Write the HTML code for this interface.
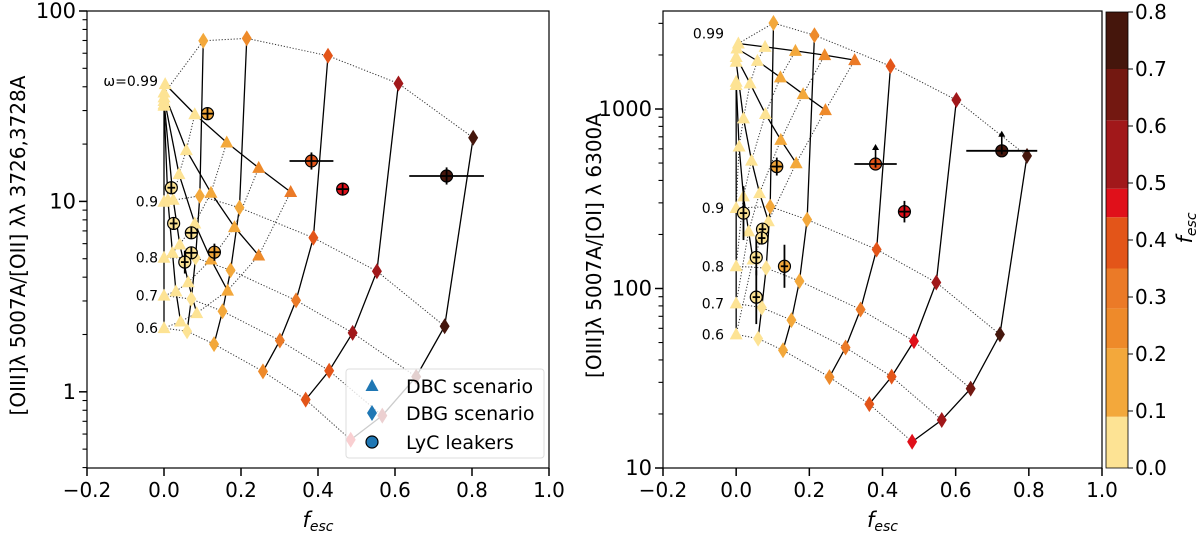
<!DOCTYPE html>
<html><head><meta charset="utf-8"><style>
html,body{margin:0;padding:0;background:#fff;}
svg{display:block;font-family:"DejaVu Sans","Liberation Sans",sans-serif;}
</style></head><body>
<svg id="fig" width="1200" height="535" viewBox="0 0 1200 535" xmlns="http://www.w3.org/2000/svg"></svg>
<script>
// ---------- data ----------
const omegas = [0.99, 0.9, 0.8, 0.7, 0.6];
const omegaLabelsL = ["\u03c9=0.99","0.9","0.8","0.7","0.6"];
const omegaLabelsR = ["0.99","0.9","0.8","0.7","0.6"];
const dbgFescL = [[0.005,0.102,0.215,0.426,0.609,0.803],[0,0.093,0.196,0.388,0.553,0.729],[0,0.082,0.173,0.343,0.490,0.655],[0,0.071,0.152,0.301,0.429,0.567],[0,0.060,0.130,0.257,0.368,0.485]];
const dbgRatioL = [[38,69.8,71.8,58.2,41.6,21.6],[9.96,10.7,9.27,6.44,4.30,2.21],[5.06,5.06,4.35,3.02,2.04,1.20],[3.2,3.07,2.65,1.86,1.29,0.75],[2.16,2.08,1.78,1.28,0.91,0.56]];
const dbgFescR = [[0.006,0.102,0.214,0.422,0.602,0.795],[0,0.093,0.194,0.384,0.547,0.721],[0,0.082,0.173,0.340,0.486,0.641],[0,0.070,0.151,0.299,0.425,0.562],[0,0.060,0.128,0.255,0.364,0.481]];
const dbgRatioR = [[2317,3013,2577,1733,1122,548],[281,286,242,165,108,55.5],[133,130,110,76.4,50.9,27.7],[82.6,78.2,66.7,46.9,32.3,18.5],[55.5,52.6,45.3,32.1,22.7,14.0]];
const dbcFescL = [[0.003,0.080,0.163,0.246,0.329],[0,0.058,0.122,0.183,0.246],[0,0.039,0.080,0.122,0.165],[0,0.024,0.041,0.063,0.085],[0,0.010,0.022,0.031,0.043],[0,0,0,0,0]];
const dbcRatioL = [[41.3,28.7,20.4,15.0,11.2],[37.3,18.6,11.1,7.33,5.2],[35.2,13.9,7.66,4.95,3.40],[33.7,10.2,5.94,3.76,2.59],[32.4,10.2,5.37,3.37,2.34],[31.8,9.96,5.06,3.2,2.16]];
const dbcFescR = [[0.006,0.079,0.162,0.242,0.324],[0.002,0.058,0.121,0.183,0.244],[0,0.038,0.080,0.122,0.164],[0,0.020,0.042,0.064,0.088],[0,0.008,0.020,0.034,0.046],[0,0,0,0,0]];
const dbcRatioR = [[2317,2218,2109,1995,1871],[2173,1854,1500,1211,986],[1949,1389,938,673,499],[1832,887,516,340,237],[1419,618,326,208,145],[1360,281,133,82.6,55.5]];
const lkFescL = [0.113,0.383,0.464,0.734,0.019,0.025,0.071,0.071,0.054,0.131];
const lkRatioL = [28.9,16.3,11.6,13.6,11.8,7.66,6.84,5.37,4.8,5.41];
const lkXerrL = [0.015,0.057,0.015,0.097,0.01,0.01,0.015,0.015,0.01,0.015];
const lkYerrL = [0.03,0.045,0.03,0.045,0.03,0.03,0.03,0.03,0.06,0.045];
const lkFescR = [0.111,0.381,0.460,0.726,0.020,0.072,0.070,0.055,0.132,0.055];
const lkRatioR = [478,494,268,585,263,214,191,149,133,89.5];
const lkXerrR = [0.015,0.058,0.015,0.097,0.01,0.01,0.01,0.01,0.01,0.01];
const lkYerrR = [0.05,0.02,0.06,0.02,0.15,0.03,0.03,0.1,0.12,0.15];
const lkLimitR = [0,1,0,1,0,0,0,0,0,0];
const xTicks = [-0.2,0,0.2,0.4,0.6,0.8,1.0];
const xTickLabels = ["\u22120.2","0.0","0.2","0.4","0.6","0.8","1.0"];
const yTicksL = [1,10,100]; const yTicksR = [10,100,1000];
const cbTicks = [0,0.1,0.2,0.3,0.4,0.5,0.6,0.7,0.8];
const cbEdges = [0,0.09,0.21,0.28,0.35,0.44,0.49,0.61,0.70,0.8];
const cbColors = ["#fde394","#f3a83b","#ee8a2a","#eb7a27","#e35519","#e0101a","#a1181a","#731811","#45160c"];

const svg = document.getElementById('fig');
const NS = 'http://www.w3.org/2000/svg';
function el(tag, attrs, parent){const e=document.createElementNS(NS,tag);for(const k in attrs)e.setAttribute(k,attrs[k]);(parent||svg).appendChild(e);return e;}
function cmap(f){for(let i=0;i<cbColors.length;i++){if(f<cbEdges[i+1])return cbColors[i];}return cbColors[cbColors.length-1];}
function makeAxes(x0,x1,y0,y1,logMin,logMax){
  return {x:f=>x0+(f+0.2)/1.2*(x1-x0), y:r=>y1-(Math.log10(r)-logMin)/(logMax-logMin)*(y1-y0), x0,x1,y0,y1,logMin,logMax};
}
const AL = makeAxes(87,549,11,468,Math.log10(0.398),2);
const AR = makeAxes(663,1102,11,468,1,3.546);

function drawPanel(A, name, dF, dR, cF, cR, lF, lR, lXe, lYe, lLim, yTicks, yLabel, wLabels, wLabelX){
  const g = el('g',{});
  
  
  const clip = el('clipPath',{id:name+'-clip'},g);
  el('rect',{x:A.x0,y:A.y0,width:A.x1-A.x0,height:A.y1-A.y0},clip);
  const plot = el('g',{'clip-path':'url(#'+name+'-clip)'},g);
  for(let i=0;i<dF.length;i++){
    const pts=dF[i].map((f,j)=>A.x(f)+','+A.y(dR[i][j])).join(' ');
    const p=el('polyline',{points:pts,fill:'none',stroke:'#333','stroke-width':1,'stroke-dasharray':'1.2,1.8'},plot);
    
    
  }
  for(let j=1;j<dF[0].length;j++){
    const pts=dF.map((row,i)=>A.x(row[j])+','+A.y(dR[i][j])).join(' ');
    const p=el('polyline',{points:pts,fill:'none',stroke:'#000','stroke-width':1.3},plot);
    
    
  }
  for(let k=1;k<cF[0].length;k++){
    const pts=cF.map((line,i)=>A.x(line[k])+','+A.y(cR[i][k])).join(' ');
    const p=el('polyline',{points:pts,fill:'none',stroke:'#333','stroke-width':1,'stroke-dasharray':'1.2,1.8'},plot);
    
    
  }
  for(let i=0;i<cF.length;i++){
    const pts=cF[i].map((f,k)=>A.x(f)+','+A.y(cR[i][k])).join(' ');
    const p=el('polyline',{points:pts,fill:'none',stroke:'#000','stroke-width':1.3},plot);
    
    
  }
  for(let i=0;i<dF.length;i++)for(let j=1;j<dF[i].length;j++){
    const x=A.x(dF[i][j]), y=A.y(dR[i][j]);
    const d=el('polygon',{points:`${x},${y-8} ${x+5},${y} ${x},${y+8} ${x-5},${y}`,fill:cmap(dF[i][j])},plot);
    
    
  }
  for(let i=0;i<cF.length;i++)for(let k=0;k<cF[i].length;k++){
    const x=A.x(cF[i][k]), y=A.y(cR[i][k]);
    const t=el('polygon',{points:`${x},${y-7} ${x+6.5},${y+5} ${x-6.5},${y+5}`,fill:cmap(cF[i][k])},plot);
    
    
  }
  for(let i=0;i<lF.length;i++){
    const x=A.x(lF[i]), y=A.y(lR[i]);
    const xa=A.x(lF[i]-lXe[i]), xb=A.x(lF[i]+lXe[i]);
    const ya=A.y(lR[i]*Math.pow(10,lYe[i])), yb=A.y(lR[i]/Math.pow(10,lYe[i]));
    const lg=el('g',{},plot);
    
    
    el('circle',{cx:x,cy:y,r:6,fill:cmap(lF[i]),stroke:'#000','stroke-width':1.2},lg);
    el('line',{x1:xa,y1:y,x2:xb,y2:y,stroke:'#000','stroke-width':1.8},lg);
    el('line',{x1:x,y1:ya,x2:x,y2:yb,stroke:'#000','stroke-width':1.8},lg);
    if(lLim && lLim[i]){
      el('line',{x1:x,y1:y,x2:x,y2:y-16,stroke:'#000','stroke-width':1.6},lg);
      el('polygon',{points:`${x},${y-20} ${x+3.5},${y-14} ${x-3.5},${y-14}`,fill:'#000'},lg);
    }
  }
  for(let i=0;i<omegas.length;i++){
    const t=el('text',{x:wLabelX,y:A.y(dR[i][0])+(i===0?-5:5),'font-size':14,'text-anchor':'end'},g);
    t.textContent=wLabels[i];
    
    
  }
  el('rect',{x:A.x0,y:A.y0,width:A.x1-A.x0,height:A.y1-A.y0,fill:'none',stroke:'#000','stroke-width':1.2},g);
  xTicks.forEach((v,i)=>{
    const x=A.x(v);
    el('line',{x1:x,y1:A.y1,x2:x,y2:A.y1+8,stroke:'#000','stroke-width':1.5},g);
    const t=el('text',{x:x,y:A.y1+29,'font-size':20,'text-anchor':'middle'},g);
    t.textContent=xTickLabels[i];
    
    
  });
  yTicks.forEach(v=>{
    const y=A.y(v);
    el('line',{x1:A.x0-8,y1:y,x2:A.x0,y2:y,stroke:'#000','stroke-width':1.5},g);
    const t=el('text',{x:A.x0-11,y:y+7,'font-size':21,'text-anchor':'end'},g);
    t.textContent=String(v);
    
    
  });
  for(let d=Math.floor(A.logMin);d<A.logMax;d++){
    for(let m=2;m<10;m++){
      const lv=d+Math.log10(m);
      if(lv<A.logMin||lv>A.logMax)continue;
      const y=A.y(Math.pow(10,lv));
      el('line',{x1:A.x0-4.5,y1:y,x2:A.x0,y2:y,stroke:'#000','stroke-width':1.1},g);
    }
  }
  const xl=el('text',{x:(A.x0+A.x1)/2,y:527,'font-size':21,'text-anchor':'middle','font-style':'italic'},g);
  xl.innerHTML='f<tspan font-size="14" dy="4">esc</tspan>';
  
  
  const yl=el('text',{x:0,y:0,'font-size':20,'text-anchor':'middle',transform:`translate(${A.x0-62},${(A.y0+A.y1)/2+6}) rotate(-90)`},g);
  yl.textContent=yLabel;
  
  
  return g;
}

drawPanel(AL,'left-panel',dbgFescL,dbgRatioL,dbcFescL,dbcRatioL,lkFescL,lkRatioL,lkXerrL,lkYerrL,null,yTicksL,'[OIII]\u03bb 5007A/[OII] \u03bb\u03bb 3726,3728A',omegaLabelsL,158);
drawPanel(AR,'right-panel',dbgFescR,dbgRatioR,dbcFescR,dbcRatioR,lkFescR,lkRatioR,lkXerrR,lkYerrR,lkLimitR,yTicksR,'[OIII]\u03bb 5007A/[OI] \u03bb 6300A',omegaLabelsR,724);

const leg=el('g',{});


el('rect',{x:346,y:369,width:198,height:89,rx:3,fill:'#fff','fill-opacity':0.8,stroke:'#ddd','stroke-width':1},leg);
const legItems=["DBC scenario","DBG scenario","LyC leakers"];
const legY=[386,413,442];
legItems.forEach((s,i)=>{
  const y=legY[i], x=372;
  let m;
  if(i===0) m=el('polygon',{points:`${x},${y-7} ${x+6.5},${y+5} ${x-6.5},${y+5}`,fill:'#1f77b4'},leg);
  else if(i===1) m=el('polygon',{points:`${x},${y-8} ${x+5},${y} ${x},${y+8} ${x-5},${y}`,fill:'#1f77b4'},leg);
  else m=el('circle',{cx:x,cy:y,r:6,fill:'#1f77b4',stroke:'#000','stroke-width':1.2},leg);
  
  
  const t=el('text',{x:406,y:y+7,'font-size':19},leg);
  t.textContent=s;
  
  
});

const cb=el('g',{});


const cbY=v=>468-v/0.8*456;
cbColors.forEach((c,i)=>{
  const r=el('rect',{x:1106,y:cbY(cbEdges[i+1]),width:22,height:cbY(cbEdges[i])-cbY(cbEdges[i+1]),fill:c},cb);
  
  
});
el('rect',{x:1106,y:12,width:22,height:456,fill:'none',stroke:'#000','stroke-width':0.8},cb);
cbTicks.forEach(v=>{
  const y=cbY(v);
  el('line',{x1:1128,y1:y,x2:1133,y2:y,stroke:'#000','stroke-width':1},cb);
  const t=el('text',{x:1135,y:y+7,'font-size':20},cb);
  t.textContent=v.toFixed(1);
  
  
});
const cbl=el('text',{x:0,y:0,'font-size':21,'font-style':'italic','text-anchor':'middle',transform:'translate(1192,228) rotate(-90)'},cb);
cbl.innerHTML='f<tspan font-size="14" dy="4">esc</tspan>';


</script>
</body></html>
